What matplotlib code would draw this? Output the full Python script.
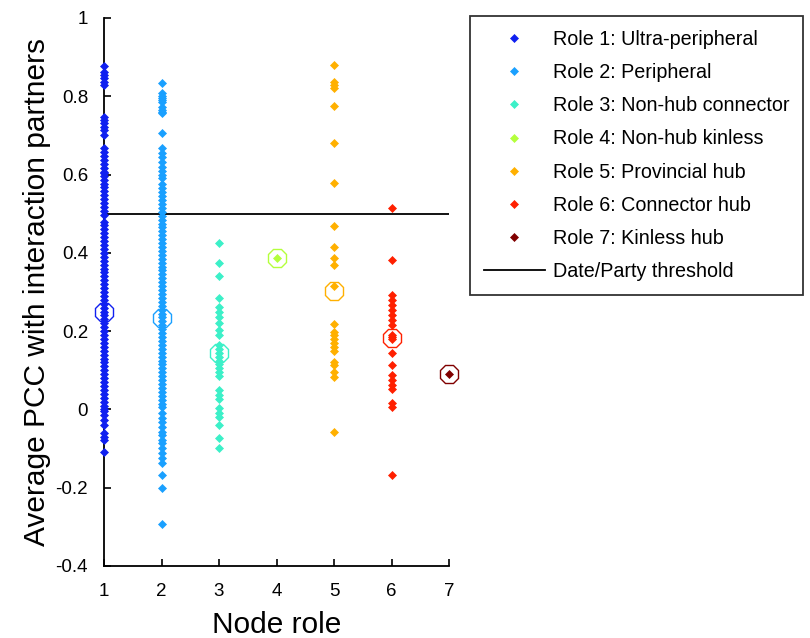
import matplotlib
matplotlib.use("Agg")
import matplotlib.pyplot as plt

plt.rcParams['font.family'] = ['Liberation Sans', 'DejaVu Sans']

roles = [1, 2, 3, 4, 5, 6, 7]
labels = ["Role 1: Ultra-peripheral", "Role 2: Peripheral", "Role 3: Non-hub connector",
          "Role 4: Non-hub kinless", "Role 5: Provincial hub", "Role 6: Connector hub",
          "Role 7: Kinless hub"]
colors = ['#1020F0', '#1AA0FF', '#3CF0C8', '#B4FF3C', '#FFB000', '#FF2000', '#800000']

role1 = [0.877, 0.863, 0.854, 0.846, 0.837, 0.829, 0.748, 0.739, 0.731, 0.722, 0.714, 0.701,
         0.667, 0.657, 0.647, 0.637, 0.627, 0.617, 0.607, 0.603, 0.597, 0.587, 0.577, 0.567,
         0.557, 0.547, 0.537, 0.527, 0.517, 0.507, 0.497,
         0.48, 0.47, 0.46, 0.45, 0.44, 0.43, 0.42, 0.41, 0.40, 0.39, 0.38, 0.37, 0.36, 0.35,
         0.34, 0.33, 0.32, 0.31, 0.30, 0.29, 0.28, 0.27, 0.26, 0.25, 0.24, 0.23, 0.22, 0.21,
         0.20, 0.19, 0.18, 0.17, 0.16, 0.15, 0.14, 0.13, 0.12, 0.11, 0.10, 0.09, 0.08, 0.07,
         0.06, 0.05, 0.04, 0.03, 0.02, 0.01, 0.0, -0.005, -0.014, -0.027, -0.04, -0.061,
         -0.07, -0.078, -0.11]
role2 = [0.833, 0.808, 0.80, 0.795, 0.79, 0.786, 0.773, 0.765, 0.76, 0.757, 0.705,
         0.668, 0.655, 0.645, 0.632, 0.62, 0.61, 0.60, 0.59, 0.575, 0.565, 0.555, 0.545,
         0.535, 0.525, 0.515, 0.505, 0.495, 0.485, 0.475, 0.465, 0.455, 0.445, 0.435, 0.425,
         0.415, 0.405, 0.395, 0.385, 0.375, 0.365, 0.355, 0.345, 0.335, 0.325, 0.315, 0.305,
         0.295, 0.285, 0.275, 0.265, 0.255, 0.245, 0.235, 0.225, 0.215, 0.205, 0.195, 0.185,
         0.175, 0.165, 0.155, 0.145, 0.135, 0.125, 0.115, 0.105, 0.095, 0.085, 0.075, 0.065,
         0.055, 0.045, 0.035, 0.025, 0.015, 0.005, -0.01, -0.023, -0.031, -0.044, -0.057,
         -0.065, -0.078, -0.087, -0.099, -0.112, -0.125, -0.138, -0.168, -0.20, -0.293]
role3 = [0.424, 0.375, 0.341, 0.284, 0.262, 0.25, 0.237, 0.22, 0.203, 0.19, 0.165, 0.155,
         0.145, 0.135, 0.125, 0.115, 0.105, 0.095, 0.085, 0.05, 0.037, 0.026, 0.004, -0.01,
         -0.02, -0.04, -0.073, -0.099]
role4 = [0.386]
role5 = [0.88, 0.837, 0.829, 0.82, 0.776, 0.68, 0.578, 0.469, 0.416, 0.386, 0.369, 0.315,
         0.217, 0.199, 0.19, 0.18, 0.17, 0.16, 0.15, 0.122, 0.113, 0.096, 0.084, -0.057]
role6 = [0.515, 0.382, 0.292, 0.279, 0.267, 0.254, 0.241, 0.228, 0.216, 0.19, 0.186, 0.18,
         0.145, 0.113, 0.088, 0.075, 0.062, 0.051, 0.016, 0.007, -0.168]
role7 = [0.09]
values = [role1, role2, role3, role4, role5, role6, role7]
means = [0.25, 0.233, 0.144, 0.386, 0.303, 0.183, 0.09]
threshold = 0.5

fig = plt.figure(figsize=(8.10, 6.38), dpi=100)
ax = fig.add_axes([104/810, 72/638, 345/810, 548/638])

for r, vals, c, lab, m in zip(roles, values, colors, labels, means):
    ax.plot([r]*len(vals), vals, linestyle='none', marker='D', markersize=4.2,
            color=c, markeredgewidth=0.5, label=lab, clip_on=False, zorder=3)
    ax.plot([r], [m], linestyle='none', marker='8', markersize=14, markerfacecolor='none',
            markeredgecolor=c, markeredgewidth=1.0, clip_on=False, zorder=4)

ax.plot([1, 7], [threshold, threshold], color='black', linewidth=1.3,
        label='Date/Party threshold', zorder=2)

ax.set_xlim(1, 7)
ax.set_ylim(-0.4, 1)
ax.set_xticks(roles)
ax.set_yticks([-0.4, -0.2, 0, 0.2, 0.4, 0.6, 0.8, 1])
ax.set_yticklabels(['-0.4', '-0.2', '0', '0.2', '0.4', '0.6', '0.8', '1'])
ax.spines['top'].set_visible(False)
ax.spines['right'].set_visible(False)
for s in ['left', 'bottom']:
    ax.spines[s].set_linewidth(1.3)
ax.tick_params(direction='in', length=5, width=1.2, labelsize=13.5)
ax.tick_params(axis='x', pad=12)
ax.tick_params(axis='y', pad=11.5)
ax.set_xlabel('Node role', fontsize=21.5, labelpad=8)
ax.set_ylabel('Average PCC with interaction partners', fontsize=21.5, labelpad=3)

leg = fig.legend(loc='upper left', bbox_to_anchor=(470/810, 1 - 16/638), fontsize=14.2,
                 frameon=True, fancybox=False, edgecolor='black', handlelength=3.1,
                 handletextpad=0.41, labelspacing=0.72, borderpad=0.7, borderaxespad=0)
leg.get_frame().set_linewidth(1.3)

fig.savefig('out.png', dpi=100)
